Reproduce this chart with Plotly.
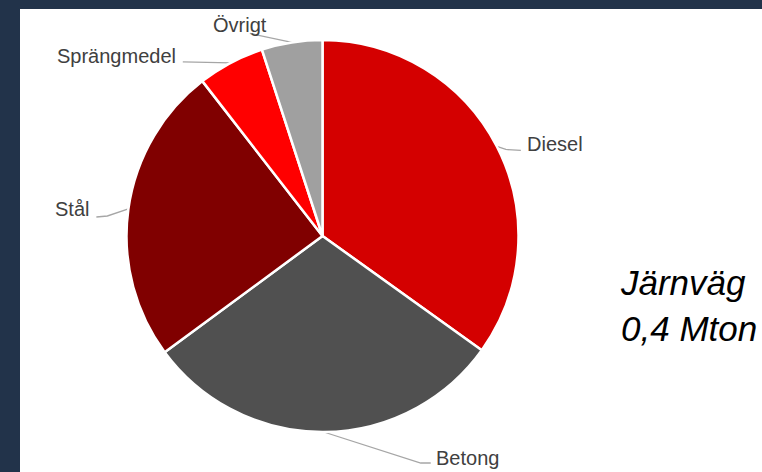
import math
import plotly.graph_objects as go

# ---- data ----
categories = ["Diesel", "Betong", "Stål", "Sprängmedel", "Övrigt"]
values = [34.9, 30.0, 24.6, 5.5, 5.0]
colors = ["#d40000", "#505050", "#800000", "#ff0000", "#a0a0a0"]
title_lines = ["Järnväg", "0,4 Mton"]

# ---- layout geometry (pixels) ----
W, H = 762, 472
CX, CY, R = 322.5, 236.0, 196.0

# leader-line styling: elbow & end offsets from slice edge, text offset from end
leader_style = {
    "Diesel":      dict(elbow=(9, 3),     end=(24, 4),    text=(4, -6),  anchor="left"),
    "Betong":      dict(elbow=(97, 31),   end=(107, 31),  text=(3, -5),  anchor="left"),
    "Stål":        dict(elbow=(-21, 7),   end=(-32, 8),   text=(-5, -8), anchor="right"),
    "Sprängmedel": dict(elbow=(-24, -0.5), end=(-48, -1), text=(-5, -6), anchor="right"),
    "Övrigt":      dict(elbow=(-21, -4.5), end=(-42, -9), text=(-10, -8), anchor="center"),
}

fig = go.Figure()

fig.add_trace(go.Pie(
    labels=categories,
    values=values,
    sort=False,
    direction="clockwise",
    rotation=0,
    marker=dict(colors=colors, line=dict(color="white", width=2.5)),
    textinfo="none",
    hoverinfo="label+percent",
    showlegend=False,
    domain=dict(x=[(CX - R) / W, (CX + R) / W],
                y=[(H - (CY + R)) / H, (H - (CY - R)) / H]),
))

total = sum(values)
cum = 0.0
annotations = []
for cat, v in zip(categories, values):
    mid = (cum + v / 2) / total * 2 * math.pi
    cum += v
    ex = CX + R * math.sin(mid)
    ey = CY - R * math.cos(mid)
    st = leader_style[cat]
    bx, by = ex + st["elbow"][0], ey + st["elbow"][1]
    nx, ny = ex + st["end"][0], ey + st["end"][1]
    fig.add_trace(go.Scatter(
        x=[ex, bx, nx], y=[ey, by, ny], mode="lines",
        line=dict(color="#a6a6a6", width=1.3),
        hoverinfo="skip", showlegend=False,
    ))
    annotations.append(dict(
        x=nx + st["text"][0], y=ny + st["text"][1], xref="x", yref="y",
        text=cat, showarrow=False, xanchor=st["anchor"], yanchor="middle",
        font=dict(family="Liberation Sans, Arial, sans-serif", size=20, color="#404040"),
    ))

annotations.append(dict(
    x=618, y=305, xref="x", yref="y",
    text="<i>" + "<br>".join(title_lines) + "</i>",
    showarrow=False, xanchor="left", yanchor="middle", align="left",
    font=dict(family="Liberation Sans, Arial, sans-serif", size=35, color="#000000"),
))

fig.update_layout(
    width=W, height=H, autosize=False,
    margin=dict(l=0, r=0, t=0, b=0),
    paper_bgcolor="#22334a",
    plot_bgcolor="rgba(0,0,0,0)",
    xaxis=dict(range=[0, W], visible=False, fixedrange=True),
    yaxis=dict(range=[H, 0], visible=False, fixedrange=True),
    shapes=[dict(type="rect", xref="x", yref="y", x0=20, x1=W + 5, y0=9, y1=H + 5,
                 fillcolor="white", line=dict(width=0), layer="below")],
    annotations=annotations,
)

fig.write_html(
    "out.html",
    config={"displayModeBar": False},
    post_script="document.documentElement.style.margin='0';"
                "document.body.style.margin='0';"
                "document.body.style.overflow='hidden';"
                "document.body.style.background='#22334a';",
)
